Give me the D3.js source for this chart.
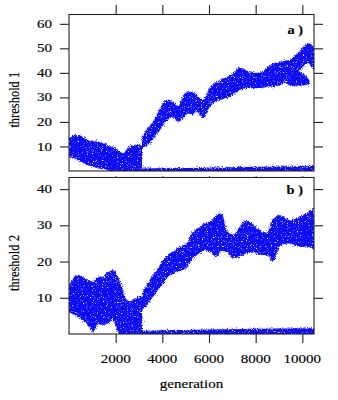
<!DOCTYPE html>
<html>
<head>
<meta charset="utf-8">
<script src="https://cdn.jsdelivr.net/npm/d3@7"></script>
<style>
  html, body { margin: 0; padding: 0; background: #fff; }
  svg { display: block; }
  text { font-family: "Liberation Serif", "Times New Roman", serif; fill: #000; stroke: #000; stroke-width: 0.15; }
</style>
</head>
<body>
<svg id="chart" width="338" height="400"></svg>
<script>
// ---- Data: population clouds of the two evolving thresholds over generations ----
// Each cloud is given by its lower and upper edge at a set of generations.

// Threshold 1: single cloud before the split
const genPre1 = [0, 385, 810, 1240, 1670, 2100, 2310, 2530, 2950, 3130];
const hiPre1  = [13.3, 14.7, 12.6, 12.0, 10.6, 8.6, 7.2, 9.4, 10.8, 10.5];
const loPre1  = [5.9, 4.5, 2.4, 1.1, 0.4, 0, 0, 0, 0, 0];

// Threshold 1: rising branch after the split
const genUp1 = [3130, 3380, 3600, 3810, 4030, 4240, 4450, 4670, 4880, 5100, 5310, 5470, 5750, 6040, 6470, 6900, 7320, 7750, 8180, 8600, 9040, 9460, 9890, 10240, 10500];
const hiUp1  = [14.0, 17.5, 20.0, 23.6, 27.7, 29.0, 28.3, 26.2, 30.3, 32.3, 32.0, 31.0, 29.0, 33.8, 37.0, 39.0, 42.0, 40.5, 40.0, 43.0, 44.6, 45.3, 49.0, 52.0, 50.5];
const loUp1  = [9.5, 10.6, 13.3, 15.5, 18.7, 20.8, 22.2, 20.0, 21.4, 23.4, 23.0, 24.2, 21.6, 26.2, 29.0, 30.3, 33.0, 33.8, 33.8, 34.4, 35.0, 38.5, 41.0, 44.0, 41.0];

// Threshold 1: side fork near the end of the run
const genFork1 = [9300, 9600, 9900, 10100, 10300];
const hiFork1  = [40.0, 40.5, 40.5, 39.0, 37.0];
const loFork1  = [36.0, 34.5, 35.0, 35.0, 35.5];

// Threshold 1: branch that stays near zero
const genLow1 = [3130, 5000, 7000, 9000, 10500];
const hiLow1  = [1.0, 1.2, 1.5, 1.8, 2.0];
const loLow1  = [0, 0, 0, 0, 0];

// Threshold 2: single cloud before the split
const genPre2 = [0, 385, 810, 1030, 1240, 1460, 1670, 1880, 2100, 2310, 2530, 2740, 3030, 3130];
const hiPre2  = [13.5, 16.3, 14.9, 14.4, 15.8, 15.8, 17.2, 17.6, 15.8, 12.0, 8.9, 9.3, 10.3, 10.5];
const loPre2  = [6.0, 4.8, 2.5, 0.6, 2.9, 2.5, 2.9, 3.8, 0.6, 0, 0, 0, 0, 0];

// Threshold 2: rising branch after the split
const genUp2 = [3130, 3380, 3600, 3810, 4030, 4240, 4670, 5100, 5180, 5610, 5820, 6040, 6320, 6540, 6750, 7040, 7320, 7610, 7900, 8180, 8470, 8750, 9040, 9460, 9890, 10250, 10500];
const hiUp2  = [11.2, 14.0, 16.3, 18.1, 20.4, 21.8, 23.6, 25.5, 26.8, 29.6, 30.5, 31.0, 32.8, 33.3, 28.7, 27.3, 29.6, 31.4, 30.1, 28.7, 27.8, 31.9, 32.8, 31.4, 32.4, 33.7, 34.7];
const loUp2  = [6.6, 8.4, 10.3, 12.1, 14.0, 15.8, 17.2, 18.6, 19.9, 22.3, 23.2, 22.7, 21.3, 23.0, 22.7, 20.9, 21.3, 22.3, 22.7, 21.8, 21.8, 19.9, 24.5, 25.0, 24.1, 24.1, 23.2];

// Threshold 2: branch that stays near zero
const genLow2 = [3130, 5000, 7000, 9000, 10500];
const hiLow2  = [0.9, 1.1, 1.3, 1.5, 1.6];
const loLow2  = [0, 0, 0, 0, 0];

// Tick values and panel titles
const xTicks  = [2000, 4000, 6000, 8000, 10000];
const yTicks1 = [10, 20, 30, 40, 50, 60];
const yTicks2 = [10, 20, 30, 40];
const yTitles = ["threshold 1", "threshold 2"];
const panelTags = ["a )", "b )"];
const xTitle = "generation";

// ---- Layout ----
const svg = d3.select("#chart");
const left = 69, right = 314;
const panels = [
  { top: 14.5, bottom: 171, yMax: 63.8, ticks: yTicks1, title: yTitles[0], tag: panelTags[0],
    titleY: 99.7, tagY: 34,
    clouds: [[genPre1, loPre1, hiPre1], [genUp1, loUp1, hiUp1], [genFork1, loFork1, hiFork1], [genLow1, loLow1, hiLow1]] },
  { top: 177.5, bottom: 334, yMax: 43.2, ticks: yTicks2, title: yTitles[1], tag: panelTags[1],
    titleY: 263, tagY: 194,
    clouds: [[genPre2, loPre2, hiPre2], [genUp2, loUp2, hiUp2], [genLow2, loLow2, hiLow2]] }
];
const x = d3.scaleLinear().domain([0, 10500]).range([left, right]);
const stretch = 1.2;           // text is drawn slightly wide
const fontSize = 12.5;
const blue = "#0808f4";

// Speckled textures for the point clouds: a loose outer haze and a dense core
const defs = svg.append("defs");
function speckle(id, freq, seed, shift, gain, offset) {
  const f = defs.append("filter").attr("id", id)
    .attr("filterUnits", "userSpaceOnUse")
    .attr("x", 0).attr("y", 0).attr("width", 338).attr("height", 400);
  f.append("feTurbulence").attr("type", "fractalNoise").attr("baseFrequency", freq)
    .attr("numOctaves", 2).attr("seed", seed).attr("result", "noise");
  f.append("feDisplacementMap").attr("in", "SourceGraphic").attr("in2", "noise")
    .attr("scale", shift).attr("xChannelSelector", "R").attr("yChannelSelector", "G").attr("result", "moved");
  f.append("feColorMatrix").attr("in", "noise").attr("type", "matrix")
    .attr("values", `0 0 0 0 0  0 0 0 0 0  0 0 0 0 0  0 0 ${gain} 0 ${offset}`).attr("result", "mask");
  f.append("feComposite").attr("in", "moved").attr("in2", "mask").attr("operator", "in");
}
speckle("haze", 0.9, 11, 9, 4, -1.6);
speckle("core", 0.8, 5, 4, 7, -1.6);

panels.forEach((p, i) => {
  const y = d3.scaleLinear().domain([0, p.yMax]).range([p.bottom, p.top]);

  defs.append("clipPath").attr("id", "clip" + i)
    .append("rect").attr("x", left).attr("y", p.top)
    .attr("width", right - left).attr("height", p.bottom - p.top);

  // clouds
  const g = svg.append("g").attr("clip-path", `url(#clip${i})`);
  const area = d3.area()
    .x(d => x(d.g))
    .y0(d => d.lo <= 0 ? y(d.lo) + 4 : y(d.lo))   // floor values tuck under the frame
    .y1(d => y(d.hi))
    .curve(d3.curveMonotoneX);
  ["haze", "core"].forEach(layer => {
    const lg = g.append("g").attr("filter", `url(#${layer})`)
      .attr("opacity", layer === "haze" ? 0.55 : 1);
    p.clouds.forEach(([gen, lo, hi]) => {
      const rows = gen.map((v, k) => ({ g: v, lo: lo[k], hi: hi[k] }));
      lg.append("path").datum(rows).attr("d", area).attr("fill", blue);
    });
  });

  // frame
  svg.append("rect").attr("x", left).attr("y", p.top)
    .attr("width", right - left).attr("height", p.bottom - p.top)
    .attr("fill", "none").attr("stroke", "#222").attr("stroke-width", 1.1);

  // left axis with labels
  const la = svg.append("g").attr("transform", `translate(${left},0)`)
    .call(d3.axisLeft(y).tickValues(p.ticks).tickSize(9).tickFormat(""));
  la.select(".domain").remove();
  la.selectAll("line").attr("stroke", "#222").attr("stroke-width", 1.1);
  p.ticks.forEach(t => {
    svg.append("text")
      .attr("transform", `translate(${left - 17},${y(t)}) scale(${stretch},1)`)
      .attr("text-anchor", "end").attr("dominant-baseline", "central")
      .attr("font-size", fontSize).text(t);
  });

  // right axis ticks only
  const ra = svg.append("g").attr("transform", `translate(${right},0)`)
    .call(d3.axisRight(y).tickValues(p.ticks).tickSize(9).tickFormat(""));
  ra.select(".domain").remove();
  ra.selectAll("line").attr("stroke", "#222").attr("stroke-width", 1.1);

  // y title
  svg.append("text")
    .attr("transform", `translate(18.5,${p.titleY}) scale(${stretch},1) rotate(-90)`)
    .attr("text-anchor", "middle").attr("font-size", fontSize).text(p.title);

  // panel tag
  svg.append("text")
    .attr("transform", `translate(303,${p.tagY}) scale(${stretch},1)`)
    .attr("text-anchor", "end").attr("font-size", 12).attr("font-weight", "bold").text(p.tag);
});

// top ticks on the upper panel
const ta = svg.append("g").attr("transform", `translate(0,${panels[0].top})`)
  .call(d3.axisTop(x).tickValues(xTicks).tickSize(9.5).tickFormat(""));
ta.select(".domain").remove();
ta.selectAll("line").attr("stroke", "#222").attr("stroke-width", 1.1);

// short ticks in the gap between panels
const ma = svg.append("g").attr("transform", `translate(0,${panels[1].top})`)
  .call(d3.axisTop(x).tickValues(xTicks).tickSize(1.5).tickFormat(""));
ma.select(".domain").remove();
ma.selectAll("line").attr("stroke", "#444").attr("stroke-width", 1);

// bottom axis with labels on the lower panel
const ba = svg.append("g").attr("transform", `translate(0,${panels[1].bottom})`)
  .call(d3.axisBottom(x).tickValues(xTicks).tickSize(9).tickFormat(""));
ba.select(".domain").remove();
ba.selectAll("line").attr("stroke", "#222").attr("stroke-width", 1.1);
xTicks.forEach(t => {
  svg.append("text")
    .attr("transform", `translate(${x(t)},362.5) scale(${stretch},1)`)
    .attr("text-anchor", "middle").attr("font-size", fontSize).text(t);
});

// x title
svg.append("text")
  .attr("transform", `translate(${(left + right) / 2},388) scale(${stretch},1)`)
  .attr("text-anchor", "middle").attr("font-size", fontSize).text(xTitle);
</script>
</body>
</html>
